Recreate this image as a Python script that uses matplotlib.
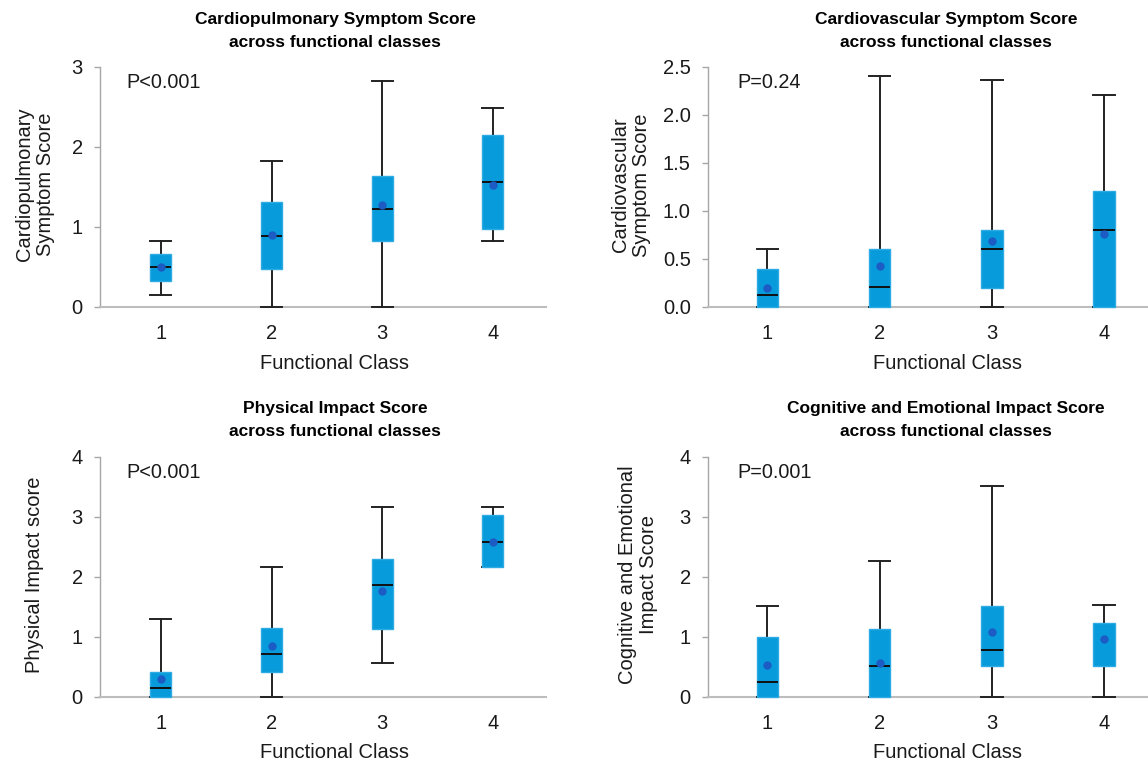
import numpy as np
import matplotlib
matplotlib.use("Agg")
import matplotlib.pyplot as plt

plt.rcParams['font.family'] = ['Liberation Sans', 'DejaVu Sans']

# Functional classes (x axis)
classes = [1, 2, 3, 4]

# --- Cardiopulmonary Symptom Score ---
cp_whislo = [0.15, 0.0, 0.0, 0.825]
cp_q1 = [0.325, 0.475, 0.825, 0.98]
cp_med = [0.495, 0.89, 1.23, 1.56]
cp_mean = [0.50, 0.90, 1.28, 1.53]
cp_q3 = [0.66, 1.31, 1.64, 2.15]
cp_whishi = [0.825, 1.83, 2.83, 2.49]

# --- Cardiovascular Symptom Score ---
cv_whislo = [0.0, 0.0, 0.0, 0.0]
cv_q1 = [0.0, 0.0, 0.2, 0.0]
cv_med = [0.12, 0.205, 0.60, 0.80]
cv_mean = [0.195, 0.43, 0.69, 0.76]
cv_q3 = [0.40, 0.60, 0.80, 1.21]
cv_whishi = [0.60, 2.41, 2.36, 2.21]

# --- Physical Impact Score ---
ph_whislo = [0.0, 0.0, 0.57, 2.17]
ph_q1 = [0.0, 0.415, 1.14, 2.17]
ph_med = [0.155, 0.72, 1.875, 2.59]
ph_mean = [0.30, 0.85, 1.765, 2.59]
ph_q3 = [0.415, 1.15, 2.30, 3.03]
ph_whishi = [1.30, 2.16, 3.17, 3.17]

# --- Cognitive and Emotional Impact Score ---
ce_whislo = [0.0, 0.0, 0.0, 0.0]
ce_q1 = [0.0, 0.0, 0.52, 0.52]
ce_med = [0.25, 0.51, 0.78, np.nan]   # median not visible for class 4
ce_mean = [0.54, 0.56, 1.09, 0.97]
ce_q3 = [1.0, 1.13, 1.51, 1.24]
ce_whishi = [1.515, 2.27, 3.52, 1.53]

titles = ["Cardiopulmonary Symptom Score\nacross functional classes",
          "Cardiovascular Symptom Score\nacross functional classes",
          "Physical Impact Score\nacross functional classes",
          "Cognitive and Emotional Impact Score\nacross functional classes"]
ylabels = ["Cardiopulmonary\nSymptom Score",
           "Cardiovascular\nSymptom Score",
           "Physical Impact score",
           "Cognitive and Emotional\nImpact Score"]
pvalues = ["P<0.001", "P=0.24", "P<0.001", "P=0.001"]
yticks = [[0, 1, 2, 3],
          [0.0, 0.5, 1.0, 1.5, 2.0, 2.5],
          [0, 1, 2, 3, 4],
          [0, 1, 2, 3, 4]]
yfmt = ["{:.0f}", "{:.1f}", "{:.0f}", "{:.0f}"]

panels = [(cp_whislo, cp_q1, cp_med, cp_mean, cp_q3, cp_whishi),
          (cv_whislo, cv_q1, cv_med, cv_mean, cv_q3, cv_whishi),
          (ph_whislo, ph_q1, ph_med, ph_mean, ph_q3, ph_whishi),
          (ce_whislo, ce_q1, ce_med, ce_mean, ce_q3, ce_whishi)]

W, H = 1148, 764
BOX_COLOR = '#079BDB'
BOX_EDGE = '#2EABE3'
MEAN_COLOR = '#1C5CC4'
TXT = '#1a1a1a'

# layout in pixels: left, top, right, bottom, xlim
layout = [(100, 67, 546, 307, (0.45, 4.48)),
          (708, 67, 1158, 307, (0.47, 4.48)),
          (100, 457, 546, 697, (0.45, 4.48)),
          (708, 457, 1158, 697, (0.47, 4.48))]
# title / label anchors in pixels
title_pos = [(335, 31), (946, 31), (335, 420), (946, 420)]
xlabel_pos = [(335, 363), (947, 363), (335, 753), (947, 753)]
ylabel_pos = [(35, 184), (631, 185), (35, 575), (638, 575)]
ptext_pos = [(126, 83), (737, 83), (126, 472), (737, 472)]

fig = plt.figure(figsize=(W / 100, H / 100), dpi=100)

for i, (wlo, q1, med, mean, q3, whi) in enumerate(panels):
    l, t, r, b, xl = layout[i]
    ax = fig.add_axes([l / W, 1 - b / H, (r - l) / W, (b - t) / H])

    stats = []
    for k in range(len(classes)):
        stats.append(dict(whislo=wlo[k], q1=q1[k], med=med[k], mean=mean[k],
                          q3=q3[k], whishi=whi[k], fliers=[]))

    art = ax.bxp(stats, positions=classes, widths=0.19, capwidths=0.19,
                 patch_artist=True, showmeans=True, showfliers=False,
                 boxprops=dict(facecolor=BOX_COLOR, edgecolor=BOX_EDGE, linewidth=1.0, zorder=3),
                 whiskerprops=dict(color='#222222', linewidth=1.4, zorder=2.6),
                 capprops=dict(color='#222222', linewidth=1.4, zorder=2.6),
                 medianprops=dict(color='#111111', linewidth=1.4, zorder=4),
                 meanprops=dict(marker='o', markerfacecolor=MEAN_COLOR,
                                markeredgecolor=MEAN_COLOR, markersize=5, zorder=5))
    for key in ('whiskers', 'caps', 'boxes', 'medians', 'means'):
        for a in art[key]:
            a.set_clip_on(False)

    ax.set_xlim(*xl)
    ax.set_ylim(0, yticks[i][-1])
    ax.set_xticks(classes)
    ax.set_xticklabels([str(c) for c in classes])
    ax.set_yticks(yticks[i])
    ax.set_yticklabels([yfmt[i].format(v) for v in yticks[i]])

    for s in ('top', 'right'):
        ax.spines[s].set_visible(False)
    ax.spines['left'].set_color('#A6A6A6')
    ax.spines['left'].set_linewidth(1.0)
    ax.spines['bottom'].set_color('#BDBDBD')
    ax.spines['bottom'].set_linewidth(1.5)

    ax.tick_params(axis='y', direction='out', length=4.5, width=1.0, color='#A6A6A6',
                   labelsize=14.5, labelcolor=TXT, pad=8)
    ax.tick_params(axis='x', length=0, labelsize=14.5, labelcolor=TXT, pad=12)

    px, py = ptext_pos[i]
    fig.text(px / W, 1 - py / H, pvalues[i], fontsize=14.3, color=TXT,
             ha='left', va='center')

    tx, ty = title_pos[i]
    fig.text(tx / W, 1 - ty / H, titles[i], fontsize=12.5, fontweight='bold',
             color='black', ha='center', va='center', linespacing=1.6)

    lx, ly = xlabel_pos[i]
    fig.text(lx / W, 1 - ly / H, "Functional Class", fontsize=14.5, color=TXT,
             ha='center', va='center')

    yx, yy = ylabel_pos[i]
    fig.text(yx / W, 1 - yy / H, ylabels[i], fontsize=14.5, color=TXT,
             ha='center', va='center', rotation=90, multialignment='center',
             linespacing=1.1)

fig.savefig('out.png', dpi=100)
